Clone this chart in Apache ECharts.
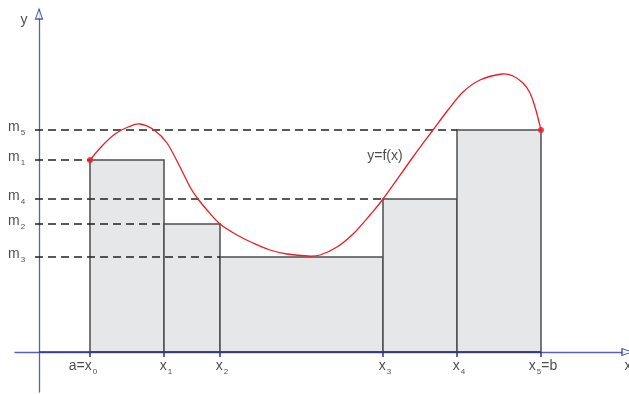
<!DOCTYPE html>
<html>
<head>
<meta charset="utf-8">
<script src="https://cdn.jsdelivr.net/npm/echarts@6/dist/echarts.min.js"></script>
<style>html,body{margin:0;padding:0;background:#fff;}#c{width:629px;height:394px;}</style>
</head>
<body>
<div id="c"></div>
<script>
// Partition points x0..x5 (data units, origin at the axes crossing)
const xTicks = [51, 125, 181, 344, 418, 502];
const xLabelMain = ['a=x', 'x', 'x', 'x', 'x', 'x'];
const xLabelSub = ['0', '1', '2', '3', '4', '5'];
const xLabelTail = ['', '', '', '', '', '=b'];
// Minimum levels m1..m5 (also heights of the rectangles, in order)
const mValues = [192, 128, 95, 153, 222];
const mLabelSub = ['1', '2', '3', '4', '5'];
const curveX = [51, 63, 76, 89, 101, 115, 128, 141, 151, 159, 168, 181, 198, 214, 231, 248, 269, 281, 298, 314, 331, 344, 374, 394, 409, 424, 441, 463, 474, 484, 491, 496, 499, 502];
const curveY = [192, 206, 218, 225, 228, 222, 209, 185, 165, 153, 142, 128, 117, 109, 102, 98, 96, 97, 105, 118, 137, 153, 195, 222, 242, 260, 272, 278, 276, 269, 259, 245, 234, 222];

const FONT = 'Liberation Sans, Arial, sans-serif';
const TXT = '#1e1e1e';
const AXIS = '#5b60b3';

const chart = echarts.init(document.getElementById('c'), null, {renderer: 'canvas'});

const bars = mValues.map((h, i) => [xTicks[i], xTicks[i + 1], h]);
const curve = curveX.map((x, i) => [x, curveY[i]]);

const dashSeries = mValues.map((m, i) => ({
  type: 'line', z: 4, silent: true, symbol: 'none',
  data: [[-4, m], [xTicks[i], m]],
  lineStyle: {color: '#222', width: 1.3, type: [8, 5]}
}));

const rich = {
  m: {fontSize: 14, fontFamily: FONT, color: TXT},
  s: {fontSize: 8, fontFamily: FONT, color: TXT, padding: [11, 0, 0, 1]},
  t: {fontSize: 14, fontFamily: FONT, color: TXT}
};

function splinePath(api) {
  const P = curve.map(p => api.coord(p));
  const n = P.length;
  let d = 'M' + P[0][0] + ',' + P[0][1];
  for (let i = 0; i < n - 1; i++) {
    const p0 = P[Math.max(i - 1, 0)], p1 = P[i], p2 = P[i + 1], p3 = P[Math.min(i + 2, n - 1)];
    const c1x = p1[0] + (p2[0] - p0[0]) / 6, c1y = p1[1] + (p2[1] - p0[1]) / 6;
    const c2x = p2[0] - (p3[0] - p1[0]) / 6, c2y = p2[1] - (p3[1] - p1[1]) / 6;
    d += 'C' + c1x + ',' + c1y + ',' + c2x + ',' + c2y + ',' + p2[0] + ',' + p2[1];
  }
  return d;
}

const option = {
  animation: false,
  grid: {left: 15, right: 4, top: 10, bottom: 2},
  xAxis: {
    type: 'value', min: -24, max: 586,
    axisLine: {onZero: true, lineStyle: {color: AXIS, width: 1.3}},
    axisTick: {show: true, customValues: xTicks, length: 5, inside: false, lineStyle: {color: '#2e3192', width: 1.5}},
    axisLabel: {show: false}, splitLine: {show: false}
  },
  yAxis: {
    type: 'value', min: -40, max: 342,
    axisLine: {onZero: true, lineStyle: {color: AXIS, width: 1.3}},
    axisTick: {show: false}, axisLabel: {show: false}, splitLine: {show: false}
  },
  series: [
    {
      type: 'custom', z: 3, silent: true,
      data: bars,
      renderItem: function (params, api) {
        const p0 = api.coord([api.value(0), api.value(2)]);
        const p1 = api.coord([api.value(1), 0]);
        return {
          type: 'rect',
          shape: {x: p0[0], y: p0[1], width: p1[0] - p0[0], height: p1[1] - p0[1]},
          style: {fill: '#e6e7e8', stroke: '#4d4d4d', lineWidth: 1.5}
        };
      }
    },
    ...dashSeries,
    {
      type: 'line', z: 5, silent: true, symbol: 'none',
      data: [[0, 0], [xTicks[5], 0]],
      lineStyle: {color: '#2e3192', width: 1.5}
    },
    {
      type: 'custom', z: 6, silent: true,
      data: [curve[0]],
      renderItem: function (params, api) {
        return {
          type: 'path',
          shape: {pathData: splinePath(api)},
          style: {fill: 'none', stroke: '#ed1c24', lineWidth: 1.3}
        };
      }
    },
    {
      type: 'scatter', z: 7, silent: true, symbol: 'circle', symbolSize: 6,
      itemStyle: {color: '#ed1c24'},
      data: [curve[0], curve[curve.length - 1]]
    },
    // axis arrows
    {
      type: 'scatter', z: 7, silent: true, clip: false, symbol: 'triangle',
      itemStyle: {color: '#fff', borderColor: '#2e3192', borderWidth: 1.2},
      data: [
        {value: [0, 338], symbolSize: [7, 10]},
        {value: [588, 0], symbolSize: [7, 10], symbolRotate: -90}
      ]
    },
    // x labels
    {
      type: 'scatter', z: 8, silent: true, clip: false, symbolSize: 0,
      data: xTicks.map((x, i) => ({
        value: [x, 0],
        label: {
          show: true, position: 'bottom', distance: 5,
          offset: [i === 0 ? -7 : 2, 0],
          formatter: '{m|' + xLabelMain[i] + '}{s|' + xLabelSub[i] + '}' + (xLabelTail[i] ? '{t|' + xLabelTail[i] + '}' : ''),
          rich: rich
        }
      }))
    },
    // y labels
    {
      type: 'scatter', z: 8, silent: true, clip: false, symbolSize: 0,
      data: mValues.map((m, i) => ({
        value: [-31, m],
        label: {
          show: true, position: 'right', distance: 0, offset: [0, -3],
          formatter: '{m|m}{s|' + mLabelSub[i] + '}',
          rich: rich
        }
      }))
    },
    // axis names and function label
    {
      type: 'scatter', z: 8, silent: true, clip: false, symbolSize: 0,
      data: [
        {value: [-15, 332], label: {show: true, position: 'inside', formatter: 'y', fontSize: 14, fontFamily: FONT, color: TXT}},
        {value: [589, -14], label: {show: true, position: 'inside', formatter: 'x', fontSize: 14, fontFamily: FONT, color: TXT}},
        {value: [346, 196], label: {show: true, position: 'inside', formatter: 'y=f(x)', fontSize: 14, fontFamily: FONT, color: TXT}}
      ]
    }
  ]
};
chart.setOption(option);
</script>
</body>
</html>
